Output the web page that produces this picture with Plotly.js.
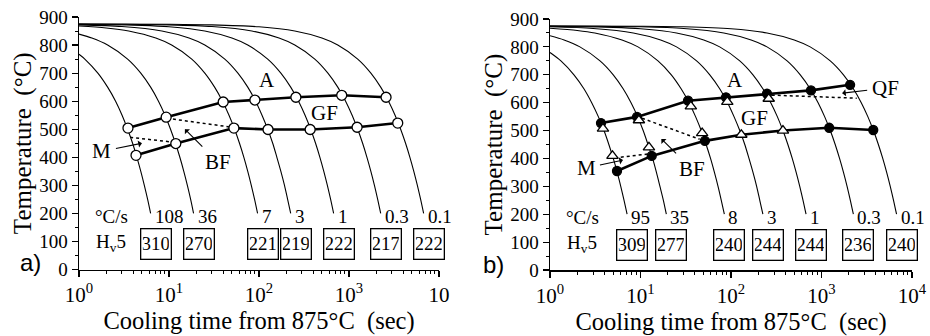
<!DOCTYPE html>
<html><head><meta charset="utf-8">
<script src="https://cdn.plot.ly/plotly-3.0.1.min.js"></script>
<style>html,body{margin:0;padding:0;background:#fff}</style>
</head><body><div id="chart" style="width:930px;height:336px"></div>
<script>
// ---------------- data ----------------
const ratesA = ['108', '36', '7', '3', '1', '0.3', '0.1'];
const ratesB = ['95', '35', '8', '3', '1', '0.3', '0.1'];
const hardA = ['310', '270', '221', '219', '222', '217', '222'];
const hardB = ['309', '277', '240', '244', '244', '236', '240'];

// cooling curves: time (s) and temperature (°C)
const cA108_t = [1, 1.16, 1.62, 2.08, 2.55, 3.01, 3.47, 3.94, 4.40, 4.86, 5.32, 5.79, 6.25];
const cA108_T = [767, 750, 700, 650, 600, 550, 500, 450, 400, 350, 300, 250, 200];
const cA36_t = [1, 1.39, 2.08, 3.47, 4.86, 6.25, 7.64, 9.03, 10.4, 11.8, 13.2, 14.6, 16.0, 17.4, 18.75];
const cA36_T = [839, 825, 800, 750, 700, 650, 600, 550, 500, 450, 400, 350, 300, 250, 200];
const cA7_t = [1, 2, 3.57, 7.14, 10.7, 17.9, 25.0, 32.1, 39.3, 46.4, 53.6, 60.7, 67.9, 75.0, 82.1, 89.3, 96.4];
const cA7_T = [868, 861, 850, 825, 800, 750, 700, 650, 600, 550, 500, 450, 400, 350, 300, 250, 200];
const cB95_t = [1, 1.32, 1.84, 2.37, 2.89, 3.42, 3.95, 4.47, 5.00, 5.53, 6.05, 6.58, 7.11];
const cB95_T = [780, 750, 700, 650, 600, 550, 500, 450, 400, 350, 300, 250, 200];
const cB35_t = [1, 1.43, 2.14, 3.57, 5.0, 6.43, 7.86, 9.29, 10.7, 12.1, 13.6, 15.0, 16.4, 17.9, 19.3];
const cB35_T = [840, 825, 800, 750, 700, 650, 600, 550, 500, 450, 400, 350, 300, 250, 200];
const cB8_t = [1, 2, 3.13, 6.25, 9.38, 15.6, 21.9, 28.1, 34.4, 40.6, 46.9, 53.1, 59.4, 65.6, 71.9, 78.1, 84.4];
const cB8_T = [867, 859, 850, 825, 800, 750, 700, 650, 600, 550, 500, 450, 400, 350, 300, 250, 200];
const c3_t = [1, 3, 8.33, 16.7, 25, 41.7, 58.3, 75, 91.7, 108, 125, 142, 158, 175, 192, 208, 225];
const c3_T = [872, 866, 850, 825, 800, 750, 700, 650, 600, 550, 500, 450, 400, 350, 300, 250, 200];
const c1_t = [1, 5, 10, 25, 50, 75, 125, 175, 225, 275, 325, 375, 425, 475, 525, 575, 625, 675];
const c1_T = [874, 870, 865, 850, 825, 800, 750, 700, 650, 600, 550, 500, 450, 400, 350, 300, 250, 200];
const c03_t = [1, 3, 10, 30, 83.3, 167, 250, 417, 583, 750, 917, 1083, 1250, 1417, 1583, 1750, 1917, 2083, 2250];
const c03_T = [874.7, 874, 872, 866, 850, 825, 800, 750, 700, 650, 600, 550, 500, 450, 400, 350, 300, 250, 200];
const c01_t = [1, 10, 30, 100, 250, 500, 750, 1250, 1750, 2250, 2750, 3250, 3750, 4250, 4750, 5250, 5750, 6250, 6750];
const c01_T = [874.9, 874, 872, 865, 850, 825, 800, 750, 700, 650, 600, 550, 500, 450, 400, 350, 300, 250, 200];

// panel a) transformation start / finish
const aStart_t = [3.5, 9.3, 40, 90, 257, 830, 2580];
const aStart_T = [504, 543, 597, 604, 614, 621, 614];
const aFinish_t = [4.3, 11.9, 52.6, 126, 370, 1230, 3480];
const aFinish_T = [407, 449, 504, 499, 499, 507, 522];
const aDotM_t = [3.7, 11.1];
const aDotM_T = [471, 454];
const aDotBF_t = [9.5, 50];
const aDotBF_T = [539, 507];

// panel b) transformation start / finish
const bStartC_t = [3.66, 9.15, 33.5, 88, 250, 765, 2070];
const bStartC_T = [527, 549, 607, 619, 632, 644, 664];
const bStartTri_t = [3.85, 9.6, 36, 91, 261];
const bStartTri_T = [507, 537, 587, 603, 614];
const bFinishLine_t = [5.5, 13.3, 51.5, 130, 375, 1217, 3730];
const bFinishLine_T = [355, 409, 463, 485, 500, 510, 502];
const bFinishC_t = [5.5, 13.3, 51.5, 1217, 3730];
const bFinishC_T = [355, 409, 463, 510, 502];
const bFinishTri_t = [4.9, 12.4, 48, 130, 375];
const bFinishTri_T = [409, 440, 491, 485, 500];
const bDotM_t = [5.2, 12.2];
const bDotM_T = [402, 416];
const bDotBF_t = [10.4, 45];
const bDotBF_T = [544, 469];
const bDotQF_t = [282, 2450];
const bDotQF_T = [627, 616];

// ---------------- drawing ----------------
const SERIF = 'Liberation Serif';
const SANS = 'Liberation Sans';
const curvesA = [[cA108_t, cA108_T], [cA36_t, cA36_T], [cA7_t, cA7_T], [c3_t, c3_T], [c1_t, c1_T], [c03_t, c03_T], [c01_t, c01_T]];
const curvesB = [[cB95_t, cB95_T], [cB35_t, cB35_T], [cB8_t, cB8_T], [c3_t, c3_T], [c1_t, c1_T], [c03_t, c03_T], [c01_t, c01_T]];

const traces = [];
function curveTraces(curves, xa, ya) {
  curves.forEach(c => traces.push({x: c[0], y: c[1], xaxis: xa, yaxis: ya, mode: 'lines',
    line: {color: '#000', width: 1.1, shape: 'spline', smoothing: 0.8}, hoverinfo: 'skip', showlegend: false}));
}
function line(x, y, xa, ya, w, dash) {
  traces.push({x, y, xaxis: xa, yaxis: ya, mode: 'lines', line: {color: '#000', width: w, dash: dash || 'solid'},
    hoverinfo: 'skip', showlegend: false});
}
function marks(x, y, xa, ya, symbol, size, fill) {
  traces.push({x, y, xaxis: xa, yaxis: ya, mode: 'markers',
    marker: {symbol, size, color: fill, line: {color: '#000', width: 1.3}}, hoverinfo: 'skip', showlegend: false});
}
curveTraces(curvesA, 'x', 'y');
curveTraces(curvesB, 'x2', 'y2');

line(aDotM_t, aDotM_T, 'x', 'y', 1.5, 'dot');
line(aDotBF_t, aDotBF_T, 'x', 'y', 1.5, 'dot');
line(aStart_t, aStart_T, 'x', 'y', 2.6);
line(aFinish_t, aFinish_T, 'x', 'y', 2.6);
marks(aStart_t, aStart_T, 'x', 'y', 'circle', 10, '#fff');
marks(aFinish_t, aFinish_T, 'x', 'y', 'circle', 10, '#fff');

line(bDotM_t, bDotM_T, 'x2', 'y2', 1.5, 'dot');
line(bDotBF_t, bDotBF_T, 'x2', 'y2', 1.5, 'dot');
line(bDotQF_t, bDotQF_T, 'x2', 'y2', 1.5, 'dot');
line(bStartC_t, bStartC_T, 'x2', 'y2', 2.6);
line(bFinishLine_t, bFinishLine_T, 'x2', 'y2', 2.6);
marks(bStartC_t, bStartC_T, 'x2', 'y2', 'circle', 9, '#000');
marks(bFinishC_t, bFinishC_T, 'x2', 'y2', 'circle', 9, '#000');
marks(bStartTri_t, bStartTri_T, 'x2', 'y2', 'triangle-up', 10, '#fff');
marks(bFinishTri_t, bFinishTri_T, 'x2', 'y2', 'triangle-up', 10, '#fff');

// annotations
const L = Math.log10;
const ann = [];
function txt(xa, ya, x, y, text, size, extra) {
  ann.push(Object.assign({xref: xa, yref: ya, x: L(x), y, text, showarrow: false,
    font: {family: SERIF, size: size || 21, color: '#000'}}, extra || {}));
}
function arrowTxt(xa, ya, tx, ty, hx, hy, text) {
  ann.push({xref: xa, yref: ya, x: L(hx), y: hy, axref: xa, ayref: ya, ax: L(tx), ay: ty, text,
    showarrow: true, arrowhead: 1, arrowsize: 1.1, arrowwidth: 1.1, arrowcolor: '#000', startstandoff: 3,
    font: {family: SERIF, size: 21, color: '#000'}});
}
txt('x', 'y', 123, 675, 'A');
txt('x', 'y', 540, 557, 'GF');
arrowTxt('x', 'y', 1.8, 421, 5.0, 450, 'M');
arrowTxt('x', 'y', 35, 382, 15, 500, 'BF');
txt('x2', 'y2', 110, 681, 'A');
txt('x2', 'y2', 184, 545, 'GF');
arrowTxt('x2', 'y2', 2.5, 366, 6.4, 394, 'M');
arrowTxt('x2', 'y2', 37, 362, 17, 470, 'BF');
arrowTxt('x2', 'y2', 5050, 652, 1690, 634, 'QF');

function rateRow(xa, ya, curves, rates, hards) {
  txt(xa, ya, 2.3, 190, '°C/s', 19);
  txt(xa, ya, 2.25, 95, 'H<sub>v</sub>5', 19);
  curves.forEach((c, i) => {
    const tEnd = c[0][c[0].length - 1];
    const TEnd = c[1][c[1].length - 1];
    txt(xa, ya, tEnd, TEnd, rates[i], 19, {xanchor: 'left', xshift: 2, yshift: -3});
    txt(xa, ya, tEnd, 90, hards[i], 19, {xshift: 5, width: 26, height: 26, borderpad: 1.5,
      bordercolor: '#000', borderwidth: 1.3});
  });
}
rateRow('x', 'y', curvesA, ratesA, hardA);
rateRow('x2', 'y2', curvesB, ratesB, hardB);

ann.push({xref: 'paper', yref: 'paper', x: 18 / 930, y: 1 - 278 / 336, text: 'a)', showarrow: false,
  font: {family: SANS, size: 24, color: '#000'}});
ann.push({xref: 'paper', yref: 'paper', x: 494 / 930, y: 1 - 280 / 336, text: 'b)', showarrow: false,
  font: {family: SANS, size: 24, color: '#000'}});

// axes
const minorX = [];
for (let e = 0; e < 4; e++) for (let d = 2; d <= 9; d++) minorX.push(d * Math.pow(10, e));
function xAxis(dom, labels) {
  return {type: 'log', range: [0, 4], domain: dom, showgrid: false, zeroline: false,
    showline: true, linecolor: '#000', linewidth: 1.5, ticks: 'outside', ticklen: 6, tickwidth: 1.2, tickcolor: '#000',
    tickvals: [1, 10, 100, 1000, 10000], ticktext: labels,
    tickfont: {family: SERIF, size: 21, color: '#000'},
    minor: {tickvals: minorX, ticks: 'outside', ticklen: 3, tickwidth: 1, tickcolor: '#000', showgrid: false},
    title: {text: 'Cooling time from 875°C\u00a0 (sec)', font: {family: SERIF, size: 24.5, color: '#000'}, standoff: 3}};
}
function yAxis(dom, anchor) {
  return {range: [0, 900], domain: dom, anchor, showgrid: false, zeroline: false,
    showline: true, linecolor: '#000', linewidth: 1.5, ticks: 'outside', ticklen: 6, tickwidth: 1.2, tickcolor: '#000',
    tickvals: [0, 100, 200, 300, 400, 500, 600, 700, 800, 900],
    tickfont: {family: SERIF, size: 19, color: '#000'},
    minor: {dtick: 50, ticks: 'outside', ticklen: 3, tickwidth: 1, tickcolor: '#000', showgrid: false},
    title: {text: 'Temperature\u00a0 (°C)', font: {family: SERIF, size: 25, color: '#000'}, standoff: 0}};
}
const sup = n => '10<sup>' + n + '</sup>';
const layout = {
  width: 930, height: 336, margin: {l: 0, r: 0, t: 0, b: 0},
  paper_bgcolor: '#fff', plot_bgcolor: '#fff', showlegend: false,
  font: {family: SERIF, color: '#000'},
  xaxis: Object.assign(xAxis([79 / 930, 439 / 930], [sup(0), sup(1), sup(2), sup(3), '10']), {anchor: 'y'}),
  yaxis: yAxis([66.5 / 336, 319 / 336], 'x'),
  xaxis2: Object.assign(xAxis([550 / 930, 912 / 930], [sup(0), sup(1), sup(2), sup(3), sup(4)]), {anchor: 'y2'}),
  yaxis2: yAxis([66 / 336, 317 / 336], 'x2'),
  annotations: ann
};
Plotly.newPlot('chart', traces, layout, {staticPlot: true, displayModeBar: false});
</script></body></html>
